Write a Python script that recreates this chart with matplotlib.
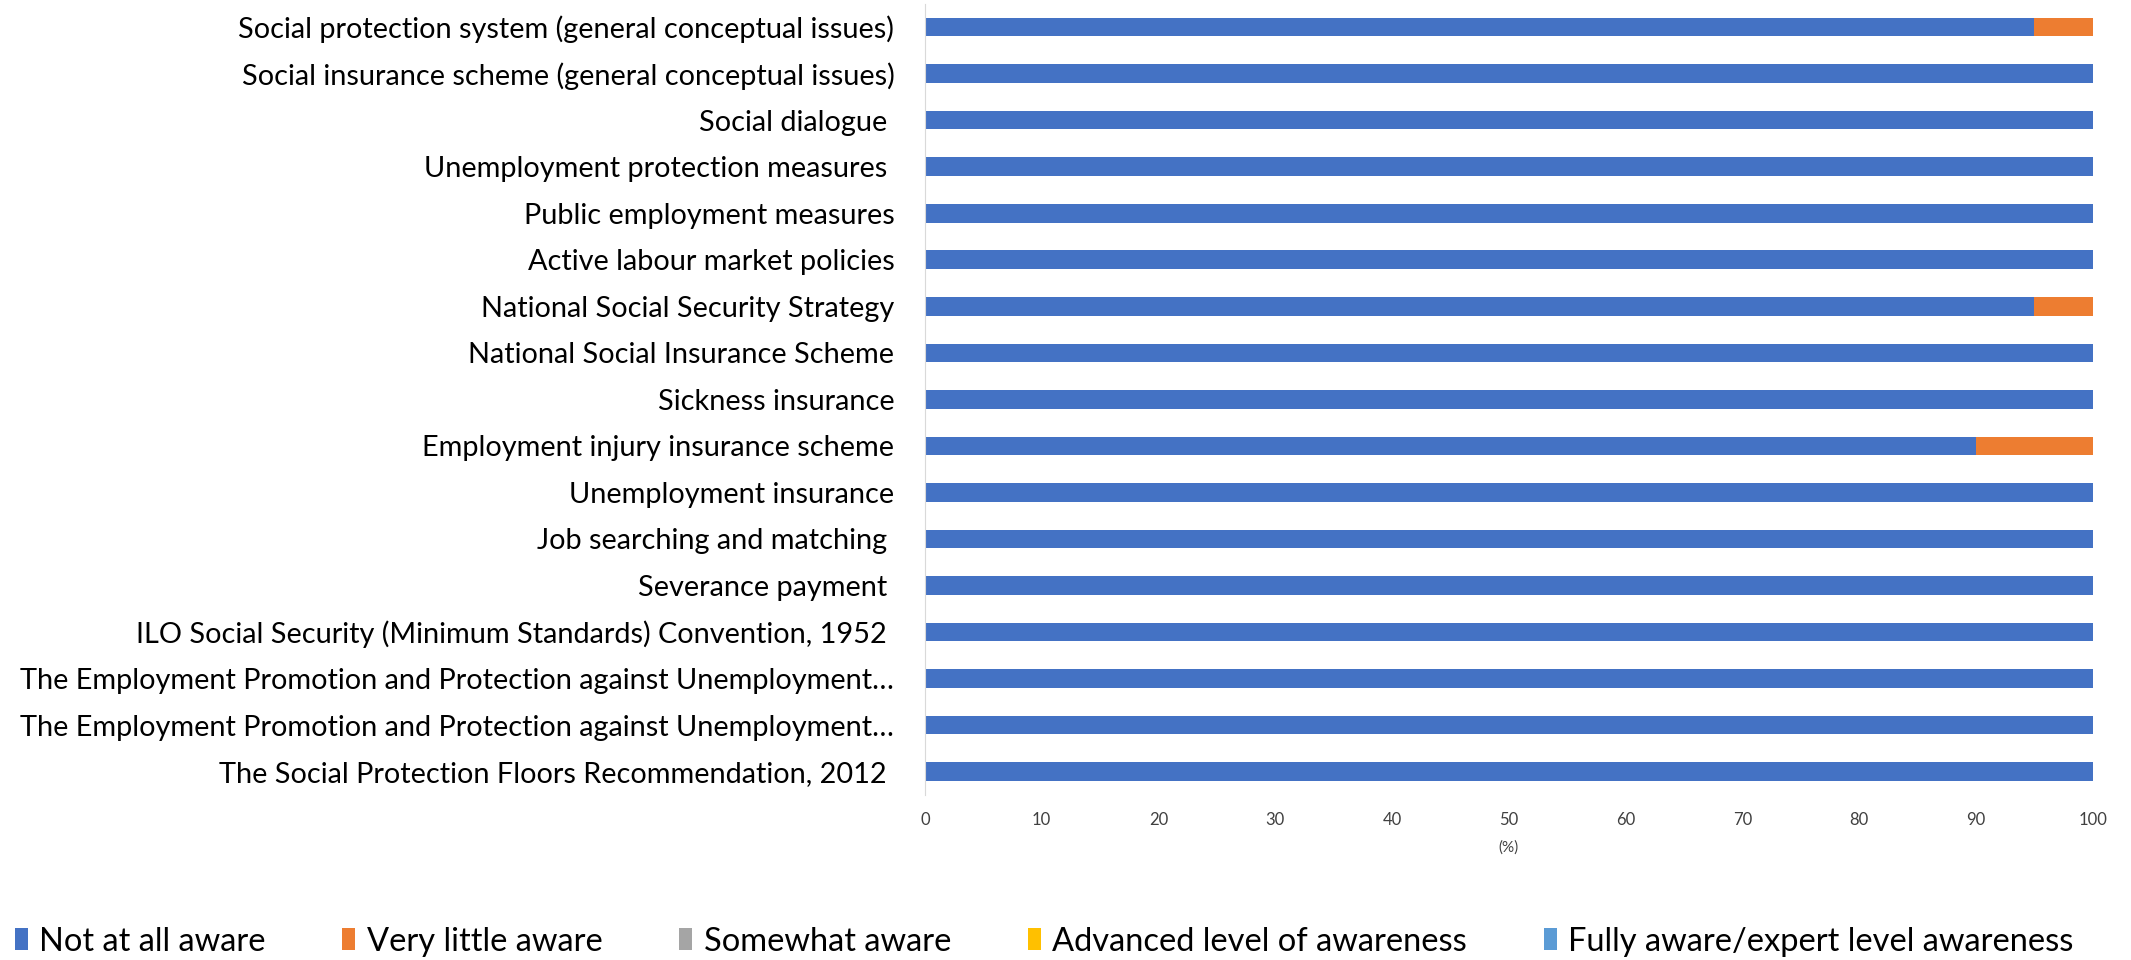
import matplotlib.pyplot as plt
import numpy as np

plt.rcParams['font.family'] = ['Lato', 'DejaVu Sans']

# categories, top to bottom as shown
topics = ['Social protection system (general conceptual issues)',
          'Social insurance scheme (general conceptual issues)',
          'Social dialogue ',
          'Unemployment protection measures ',
          'Public employment measures',
          'Active labour market policies',
          'National Social Security Strategy',
          'National Social Insurance Scheme',
          'Sickness insurance',
          'Employment injury insurance scheme',
          'Unemployment insurance',
          'Job searching and matching ',
          'Severance payment ',
          'ILO Social Security (Minimum Standards) Convention, 1952 ',
          'The Employment Promotion and Protection against Unemployment\u2026',
          'The Employment Promotion and Protection against Unemployment\u2026',
          'The Social Protection Floors Recommendation, 2012 ']

levels = ['Not at all aware', 'Very little aware', 'Somewhat aware',
          'Advanced level of awareness', 'Fully aware/expert level awareness']
colors = ['#4472C4', '#ED7D31', '#A5A5A5', '#FFC000', '#5B9BD5']

not_at_all = [95, 100, 100, 100, 100, 100, 95, 100, 100, 90, 100, 100, 100, 100, 100, 100, 100]
very_little = [5, 0, 0, 0, 0, 0, 5, 0, 0, 10, 0, 0, 0, 0, 0, 0, 0]
somewhat = [0] * 17
advanced = [0] * 17
fully = [0] * 17
series = [not_at_all, very_little, somewhat, advanced, fully]

fig = plt.figure(figsize=(21.31, 9.6), dpi=100)
ax = fig.add_axes([0.434, 0.172, 0.548, 0.824])

y = np.arange(len(topics))
left = np.zeros(len(topics))
for vals, lab, col in zip(series, levels, colors):
    ax.barh(y, vals, left=left, height=0.4, color=col, label=lab)
    left += np.array(vals)

ax.set_yticks(y)
ax.set_yticklabels(topics, fontsize=20.8)
ax.set_ylim(len(topics) - 0.5, -0.5)
ax.set_xlim(0, 100)
ax.set_xticks(range(0, 101, 10))
ax.tick_params(axis='x', labelsize=12, length=0, pad=12, colors='#404040')
ax.tick_params(axis='y', length=0, pad=22)
ax.set_xlabel('(%)', fontsize=11, color='#404040', labelpad=9)

for s in ['top', 'right', 'bottom']:
    ax.spines[s].set_visible(False)
ax.spines['left'].set_color('#D9D9D9')

ax.legend(loc='lower center', bbox_to_anchor=(0.49, -0.027), bbox_transform=fig.transFigure,
          ncol=5, frameon=False, fontsize=23.5, handlelength=0.4, handleheight=0.65,
          handletextpad=0.35, columnspacing=2.35)

plt.savefig('out.png', dpi=100)
